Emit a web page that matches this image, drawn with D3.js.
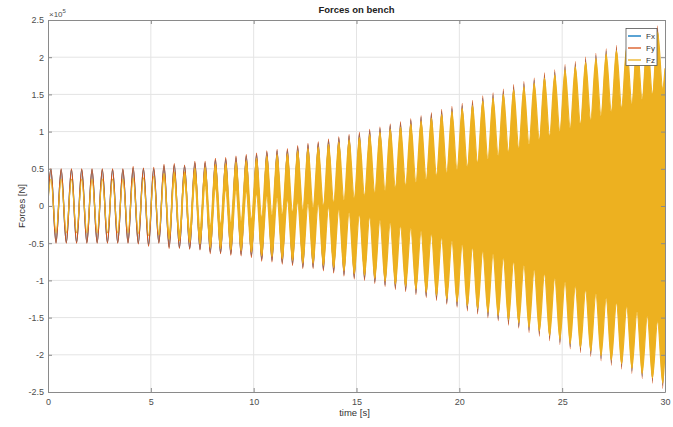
<!DOCTYPE html>
<html lang="en">
<head>
  <meta charset="UTF-8">
  <script src="https://d3js.org/d3.v7.min.js"></script>
  <title>Forces on bench</title>
  <style>
    body { margin: 0; background: white; }
    text { font-family: "Liberation Sans", Arial, Helvetica, sans-serif; }
    .tick text { font-size: 9px; fill: #4d4d4d; }
    .axis path, .axis line { stroke: #8a8a8a; }
  </style>
</head>
<body>
  <div id="chart"></div>

  <script>
    // values in units of 1e5 N
    const xTicks = [0, 5, 10, 15, 20, 25, 30];
    const yTicks = [-2.5, -2, -1.5, -1, -0.5, 0, 0.5, 1, 1.5, 2, 2.5];
    const seriesNames = ["Fx", "Fy", "Fz"];
    const colors = ["#0072BD", "#D95319", "#EDB120"];

    // times of the upper and lower lobes (2 Hz)
    const peakTimes = [0.14, 0.64, 1.14, 1.64, 2.14, 2.64, 3.14, 3.64, 4.14, 4.64,
      5.14, 5.64, 6.14, 6.64, 7.14, 7.64, 8.14, 8.64, 9.14, 9.64,
      10.14, 10.64, 11.14, 11.64, 12.14, 12.64, 13.14, 13.64, 14.14, 14.64,
      15.14, 15.64, 16.14, 16.64, 17.14, 17.64, 18.14, 18.64, 19.14, 19.64,
      20.14, 20.64, 21.14, 21.64, 22.14, 22.64, 23.14, 23.64, 24.14, 24.64,
      25.14, 25.64, 26.14, 26.64, 27.14, 27.64, 28.14, 28.64, 29.14, 29.64];
    const troughTimes = [0.39, 0.89, 1.39, 1.89, 2.39, 2.89, 3.39, 3.89, 4.39, 4.89,
      5.39, 5.89, 6.39, 6.89, 7.39, 7.89, 8.39, 8.89, 9.39, 9.89,
      10.39, 10.89, 11.39, 11.89, 12.39, 12.89, 13.39, 13.89, 14.39, 14.89,
      15.39, 15.89, 16.39, 16.89, 17.39, 17.89, 18.39, 18.89, 19.39, 19.89,
      20.39, 20.89, 21.39, 21.89, 22.39, 22.89, 23.39, 23.89, 24.39, 24.89,
      25.39, 25.89, 26.39, 26.89, 27.39, 27.89, 28.39, 28.89, 29.39, 29.89];
    const edgeTimes = [0, 30];

    const fxTop = [0.49, 0.49, 0.49, 0.49, 0.49, 0.49, 0.49, 0.49, 0.51, 0.50,
      0.50, 0.54, 0.55, 0.54, 0.58, 0.58, 0.62, 0.63, 0.65, 0.67,
      0.69, 0.72, 0.74, 0.75, 0.79, 0.82, 0.84, 0.88, 0.91, 0.94,
      0.97, 1.01, 1.04, 1.08, 1.11, 1.15, 1.19, 1.23, 1.27, 1.31,
      1.35, 1.39, 1.45, 1.49, 1.54, 1.60, 1.64, 1.69, 1.76, 1.80,
      1.87, 1.91, 1.97, 2.02, 2.08, 2.13, 2.18, 2.24, 2.30, 2.38];
    const fxBottom = [-0.49, -0.49, -0.49, -0.49, -0.49, -0.49, -0.49, -0.49, -0.50, -0.52,
      -0.49, -0.55, -0.56, -0.57, -0.58, -0.62, -0.63, -0.64, -0.65, -0.67,
      -0.72, -0.73, -0.76, -0.78, -0.82, -0.82, -0.85, -0.88, -0.92, -0.96,
      -0.98, -1.02, -1.06, -1.10, -1.13, -1.17, -1.21, -1.25, -1.30, -1.34,
      -1.39, -1.43, -1.48, -1.52, -1.58, -1.62, -1.67, -1.72, -1.78, -1.83,
      -1.89, -1.94, -1.99, -2.05, -2.11, -2.16, -2.22, -2.29, -2.35, -2.41];
    const fxEdge = [0.08, -0.45];

    const fyTop = [0.50, 0.50, 0.50, 0.50, 0.50, 0.50, 0.50, 0.50, 0.53, 0.51,
      0.52, 0.56, 0.57, 0.55, 0.60, 0.60, 0.64, 0.65, 0.67, 0.69,
      0.71, 0.74, 0.76, 0.77, 0.81, 0.84, 0.86, 0.90, 0.93, 0.96,
      0.99, 1.03, 1.06, 1.10, 1.13, 1.17, 1.21, 1.25, 1.30, 1.34,
      1.38, 1.42, 1.48, 1.52, 1.57, 1.63, 1.67, 1.72, 1.79, 1.83,
      1.90, 1.94, 2.00, 2.05, 2.11, 2.16, 2.21, 2.27, 2.33, 2.42];
    const fyBottom = [-0.50, -0.50, -0.50, -0.50, -0.50, -0.50, -0.50, -0.50, -0.51, -0.54,
      -0.50, -0.57, -0.57, -0.58, -0.59, -0.64, -0.64, -0.66, -0.67, -0.69,
      -0.74, -0.75, -0.78, -0.80, -0.84, -0.84, -0.87, -0.90, -0.94, -0.98,
      -1.00, -1.04, -1.08, -1.12, -1.15, -1.19, -1.23, -1.27, -1.32, -1.36,
      -1.41, -1.45, -1.50, -1.54, -1.60, -1.64, -1.70, -1.75, -1.81, -1.86,
      -1.92, -1.97, -2.02, -2.08, -2.14, -2.19, -2.25, -2.32, -2.38, -2.45];
    const fyEdge = [0.1, -0.5];

    // Fz: outer lobe tips and the inner edge of the dense band
    const fzTop = [0.36, 0.36, 0.36, 0.36, 0.36, 0.36, 0.36, 0.36, 0.38, 0.38,
      0.40, 0.44, 0.46, 0.46, 0.51, 0.52, 0.56, 0.57, 0.59, 0.61,
      0.64, 0.67, 0.69, 0.70, 0.74, 0.77, 0.79, 0.83, 0.86, 0.89,
      0.92, 0.96, 0.99, 1.03, 1.06, 1.10, 1.14, 1.18, 1.23, 1.27,
      1.31, 1.35, 1.41, 1.45, 1.50, 1.56, 1.60, 1.65, 1.72, 1.76,
      1.83, 1.87, 1.93, 1.98, 2.04, 2.09, 2.14, 2.20, 2.26, 2.34];
    const fzBottom = [-0.36, -0.36, -0.36, -0.36, -0.36, -0.36, -0.36, -0.36, -0.37, -0.40,
      -0.39, -0.45, -0.47, -0.49, -0.51, -0.56, -0.57, -0.59, -0.60, -0.62,
      -0.67, -0.68, -0.71, -0.73, -0.77, -0.77, -0.80, -0.83, -0.87, -0.91,
      -0.93, -0.97, -1.01, -1.05, -1.08, -1.12, -1.16, -1.20, -1.25, -1.29,
      -1.34, -1.38, -1.43, -1.47, -1.53, -1.57, -1.63, -1.68, -1.74, -1.79,
      -1.85, -1.90, -1.95, -2.01, -2.07, -2.12, -2.18, -2.25, -2.31, -2.38];
    const fzValleyTop = [-0.36, -0.36, -0.36, -0.36, -0.36, -0.36, -0.36, -0.36, -0.37, -0.40,
      -0.38, -0.35, -0.34, -0.32, -0.29, -0.26, -0.24, -0.22, -0.20, -0.18,
      -0.15, -0.12, -0.11, -0.08, -0.05, -0.02, 0.01, 0.05, 0.08, 0.11,
      0.14, 0.18, 0.21, 0.25, 0.28, 0.32, 0.36, 0.41, 0.45, 0.49,
      0.53, 0.58, 0.63, 0.68, 0.73, 0.78, 0.83, 0.89, 0.94, 1.00,
      1.05, 1.10, 1.16, 1.21, 1.27, 1.32, 1.37, 1.43, 1.50, 1.58];
    const fzValleyBottom = [0.36, 0.36, 0.36, 0.36, 0.36, 0.36, 0.36, 0.36, 0.38, 0.38,
      0.40, 0.38, 0.34, 0.32, 0.30, 0.27, 0.24, 0.22, 0.21, 0.19,
      0.16, 0.13, 0.11, 0.08, 0.05, 0.03, 0.02, -0.02, -0.05, -0.09,
      -0.12, -0.15, -0.19, -0.23, -0.27, -0.30, -0.34, -0.38, -0.43, -0.47,
      -0.52, -0.56, -0.61, -0.65, -0.70, -0.75, -0.80, -0.86, -0.91, -0.97,
      -1.02, -1.08, -1.13, -1.18, -1.24, -1.30, -1.35, -1.42, -1.48, -1.55];
    const fzUpperEdge = [0.06, 1.85];
    const fzLowerEdge = [0.06, -1.95];

    const W = 673, H = 427;
    const margin = { top: 20, right: 8, bottom: 35, left: 48 };
    const width = W - margin.left - margin.right;
    const height = H - margin.top - margin.bottom;

    const svg = d3.select("#chart")
      .append("svg")
      .attr("width", W)
      .attr("height", H);

    const g = svg.append("g")
      .attr("transform", `translate(${margin.left},${margin.top})`);

    const x = d3.scaleLinear().domain([0, 30]).range([0, width]);
    const y = d3.scaleLinear().domain([-2.5, 2.5]).range([height, 0]);

    // grid
    g.append("g").selectAll("line").data(xTicks.slice(1, -1)).join("line")
      .attr("x1", d => x(d)).attr("x2", d => x(d))
      .attr("y1", 0).attr("y2", height)
      .attr("stroke", "#e4e4e4");
    g.append("g").selectAll("line").data(yTicks.slice(1, -1)).join("line")
      .attr("x1", 0).attr("x2", width)
      .attr("y1", d => y(d)).attr("y2", d => y(d))
      .attr("stroke", "#e4e4e4");

    // join lobe extrema into one ordered list
    function track(peaks, troughs, edges) {
      const pts = [{ t: edgeTimes[0], v: edges[0] }];
      peaks.forEach((p, i) => {
        pts.push({ t: peakTimes[i], v: p });
        pts.push({ t: troughTimes[i], v: troughs[i] });
      });
      pts.push({ t: edgeTimes[1], v: edges[1] });
      return pts;
    }

    g.append("clipPath").attr("id", "clip")
      .append("rect").attr("width", width).attr("height", height);
    const plot = g.append("g").attr("clip-path", "url(#clip)");

    const line = d3.line()
      .x(d => x(d.t)).y(d => y(d.v))
      .curve(d3.curveMonotoneX);

    plot.append("path")
      .datum(track(fxTop, fxBottom, fxEdge))
      .attr("d", line)
      .attr("fill", "none")
      .attr("stroke", colors[0])
      .attr("stroke-width", 1.3);

    plot.append("path")
      .datum(track(fyTop, fyBottom, fyEdge))
      .attr("d", line)
      .attr("fill", "none")
      .attr("stroke", colors[1])
      .attr("stroke-width", 1.3);

    const upper = track(fzTop, fzValleyTop, fzUpperEdge);
    const lower = track(fzValleyBottom, fzBottom, fzLowerEdge);
    const band = upper.map((d, i) => ({ t: d.t, hi: d.v, lo: lower[i].v }));

    plot.append("path")
      .datum(band)
      .attr("d", d3.area()
        .x(d => x(d.t)).y0(d => y(d.lo)).y1(d => y(d.hi))
        .curve(d3.curveMonotoneX))
      .attr("fill", colors[2])
      .attr("stroke", colors[2])
      .attr("stroke-width", 1.2);

    // axes, ticks pointing inward on all four sides
    g.append("g").attr("class", "axis")
      .attr("transform", `translate(0,${height})`)
      .call(d3.axisBottom(x).tickValues(xTicks).tickSizeInner(-4).tickSizeOuter(0).tickPadding(7));
    g.append("g").attr("class", "axis")
      .call(d3.axisTop(x).tickValues(xTicks).tickSizeInner(-4).tickSizeOuter(0).tickFormat(""));
    g.append("g").attr("class", "axis")
      .call(d3.axisLeft(y).tickValues(yTicks).tickSizeInner(-4).tickSizeOuter(0).tickPadding(4)
        .tickFormat(d => String(d)));
    g.append("g").attr("class", "axis")
      .attr("transform", `translate(${width},0)`)
      .call(d3.axisRight(y).tickValues(yTicks).tickSizeInner(-4).tickSizeOuter(0).tickFormat(""));

    // exponent
    const ex = svg.append("text")
      .attr("x", 49).attr("y", 17)
      .attr("font-size", 8).attr("fill", "#4d4d4d")
      .text("×10");
    ex.append("tspan").attr("dy", -4).attr("font-size", 6).text("5");

    svg.append("text")
      .attr("x", margin.left + width / 2).attr("y", 13)
      .attr("text-anchor", "middle")
      .attr("font-size", 9.5).attr("font-weight", "bold").attr("fill", "#222")
      .text("Forces on bench");

    svg.append("text")
      .attr("x", margin.left + width / 2 - 2).attr("y", 416)
      .attr("text-anchor", "middle")
      .attr("font-size", 9.5).attr("fill", "#333")
      .text("time [s]");

    svg.append("text")
      .attr("transform", `translate(25,${margin.top + height / 2}) rotate(-90)`)
      .attr("text-anchor", "middle")
      .attr("font-size", 9.5).attr("fill", "#333")
      .text("Forces [N]");

    // legend
    const legend = svg.append("g").attr("transform", "translate(626,28.5)");
    legend.append("rect")
      .attr("width", 31).attr("height", 37)
      .attr("fill", "white").attr("stroke", "#555").attr("stroke-width", 0.8);
    seriesNames.forEach((name, i) => {
      const yy = 7.5 + i * 12;
      legend.append("line")
        .attr("x1", 2).attr("x2", 15).attr("y1", yy).attr("y2", yy)
        .attr("stroke", colors[i]).attr("stroke-width", 1.3);
      legend.append("text")
        .attr("x", 20).attr("y", yy + 3)
        .attr("font-size", 8).attr("fill", "#333")
        .text(name);
    });
  </script>
</body>
</html>
